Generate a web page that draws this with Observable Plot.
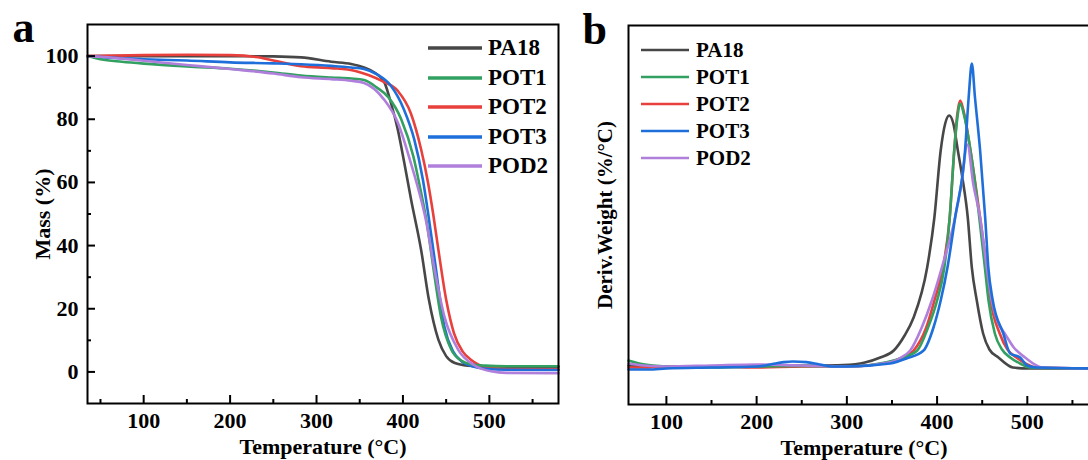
<!DOCTYPE html>
<html><head><meta charset="utf-8">
<script src="https://cdn.jsdelivr.net/npm/d3@7"></script>
<script src="https://cdn.jsdelivr.net/npm/@observablehq/plot@0.6"></script>
<style>
html,body{margin:0;padding:0;background:#fff;overflow:hidden;}
#wrap{position:relative;width:1088px;height:460px;overflow:hidden;font-family:"Liberation Serif","Times New Roman",serif;font-weight:bold;color:#000;}
#wrap svg{position:absolute;top:0;}
.row{position:absolute;display:flex;align-items:center;white-space:nowrap;height:30px;}
</style></head><body><div id="wrap"></div>
<script>
// ---------- series ----------
const series = ["PA18", "POT1", "POT2", "POT3", "POD2"];
const colors = ["#474747", "#32a060", "#e8403c", "#1f6fdb", "#b07fdc"];

// ---------- panel a : TGA (Mass %) ----------
const tgaT_PA18 = [35, 60, 100, 150, 200, 250, 282, 317, 340, 355, 367, 378.5, 386, 394, 401.5, 409.4, 421, 430, 441, 450, 460, 475, 500, 540, 580];
const tgaM_PA18 = [100, 100, 100, 100, 100, 99.9, 99.6, 98.2, 97.5, 96.4, 94.8, 91.7, 85.3, 76.8, 66.3, 54.6, 38.7, 22.9, 10.2, 5.0, 2.8, 2.0, 1.7, 1.6, 1.6];
const tgaT_POT1 = [35, 50, 75, 100, 150, 200, 250, 282, 317, 340, 355, 370, 383, 398, 412, 421, 427, 435, 444, 456, 468, 479, 495, 520, 580];
const tgaM_POT1 = [100, 99.0, 98.2, 97.6, 96.7, 96.0, 94.8, 93.8, 93.2, 92.9, 92.4, 90.0, 87.0, 80.0, 68.3, 56.8, 48.3, 33.3, 17.5, 7.0, 3.5, 2.4, 2.0, 1.8, 1.8];
const tgaT_POT2 = [35, 100, 150, 200, 230, 250, 282, 317, 345, 360, 375, 394, 409, 421, 429, 435, 441, 450, 459, 469, 479, 495, 520, 580];
const tgaM_POT2 = [100, 100.3, 100.4, 100.3, 99.7, 98.6, 96.8, 96.2, 95.3, 94.0, 92.2, 89.0, 82.0, 70.5, 60.0, 50.0, 38.7, 22.9, 12.3, 6.5, 3.8, 1.6, 0.9, 0.8];
const tgaT_POT3 = [35, 60, 100, 150, 200, 250, 282, 317, 340, 355, 370, 386, 401, 413, 423, 429, 437, 448, 458, 468, 480, 495, 520, 580];
const tgaM_POT3 = [100, 99.5, 99.0, 98.6, 98.0, 97.7, 97.4, 96.9, 96.4, 95.9, 94.2, 90.6, 83.2, 73.7, 61.0, 50.5, 35.0, 14.3, 6.5, 3.3, 1.8, 1.0, 0.7, 0.6];
const tgaT_POD2 = [35, 50, 75, 100, 150, 200, 250, 282, 317, 340, 355, 378, 394, 409, 421, 427, 436, 448, 464, 482, 502, 520, 580];
const tgaM_POD2 = [100, 99.8, 99.2, 98.5, 97.2, 95.9, 94.5, 93.3, 92.7, 92.2, 91.5, 86.3, 79.0, 66.3, 54.6, 47.5, 33.3, 17.5, 7.0, 2.2, 0.2, -0.3, -0.4];

// ---------- panel b : DTG (Deriv. weight) ----------
const dtgT_PA18 = [58, 100, 150, 200, 250, 296, 320, 337, 352, 364, 374, 389, 397, 404, 409, 413.4, 418, 423, 428, 434, 438.5, 444, 451, 458, 468, 484, 500, 580];
const dtgV_PA18 = [0.01, 0.005, 0.005, 0.005, 0.008, 0.012, 0.025, 0.05, 0.085, 0.16, 0.25, 0.5, 0.75, 1.085, 1.22, 1.26, 1.22, 1.085, 0.95, 0.75, 0.5, 0.335, 0.17, 0.09, 0.05, 0.0, -0.005, -0.005];
const dtgT_POT1 = [58, 70, 85, 100, 150, 200, 250, 300, 344, 362, 378, 390, 400, 408, 414, 419, 422.5, 425.6, 430, 437, 446, 453, 457, 464, 472, 481, 492, 503, 580];
const dtgV_POT1 = [0.035, 0.02, 0.01, 0.005, 0.0, 0.005, 0.008, 0.005, 0.026, 0.05, 0.085, 0.2, 0.335, 0.5, 0.75, 1.085, 1.25, 1.32, 1.26, 1.085, 0.78, 0.5, 0.335, 0.17, 0.09, 0.05, 0.02, 0.0, -0.005];
const dtgT_POT2 = [58, 75, 100, 150, 200, 250, 300, 346, 362, 374, 388, 397, 406.5, 414, 419, 422.5, 425.6, 430, 437, 447, 455, 459.4, 469.4, 478, 488, 498, 510, 580];
const dtgV_POT2 = [0.0, 0.0, 0.005, 0.005, 0.0, 0.005, 0.005, 0.025, 0.05, 0.085, 0.2, 0.335, 0.5, 0.75, 1.085, 1.27, 1.335, 1.27, 1.085, 0.77, 0.5, 0.335, 0.17, 0.09, 0.05, 0.02, 0.0, -0.005];
const dtgT_POT3 = [58, 80, 100, 150, 200, 215, 230, 240, 255, 270, 285, 300, 348, 366, 385, 396, 404, 411.5, 420, 431, 435, 438.5, 442, 447.7, 453.3, 456.8, 461.7, 473.4, 481, 492, 500, 510, 580];
const dtgV_POT3 = [-0.01, -0.01, -0.005, 0.0, 0.005, 0.015, 0.027, 0.03, 0.027, 0.015, 0.005, 0.005, 0.02, 0.045, 0.085, 0.2, 0.335, 0.5, 0.75, 1.085, 1.35, 1.52, 1.35, 1.085, 0.75, 0.5, 0.335, 0.17, 0.07, 0.05, 0.01, 0.0, -0.005];
const dtgT_POD2 = [58, 75, 100, 150, 200, 250, 300, 348, 360, 370.2, 383, 394.2, 405.3, 420, 427, 433.6, 440, 447.7, 455, 460.5, 468, 475, 485, 497.5, 517, 580];
const dtgV_POD2 = [0.02, 0.01, 0.005, 0.01, 0.015, 0.01, 0.005, 0.026, 0.05, 0.085, 0.2, 0.335, 0.5, 0.75, 0.92, 1.115, 0.92, 0.75, 0.5, 0.335, 0.22, 0.17, 0.1, 0.05, 0.0, -0.005];

// ---------- ticks / labels ----------
const xMajor = [100, 200, 300, 400, 500];
const xMinorA = [50, 150, 250, 350, 450, 550];
const xMinorB = [150, 250, 350, 450, 550];
const yMajorA = [0, 20, 40, 60, 80, 100];
const yMinorA = [10, 30, 50, 70, 90];
const xTitle = "Temperature (°C)";
const yTitleA = "Mass (%)";
const yTitleB = "Deriv.Weight (%/°C)";
const panelA = "a", panelB = "b";

// ---------- build tables ----------
function table(name, xs, ys) { return xs.map((x, i) => ({series: name, x, y: ys[i]})); }
const tga = {
  PA18: table("PA18", tgaT_PA18, tgaM_PA18),
  POT1: table("POT1", tgaT_POT1, tgaM_POT1),
  POT2: table("POT2", tgaT_POT2, tgaM_POT2),
  POT3: table("POT3", tgaT_POT3, tgaM_POT3),
  POD2: table("POD2", tgaT_POD2, tgaM_POD2)
};
const dtg = {
  PA18: table("PA18", dtgT_PA18, dtgV_PA18),
  POT1: table("POT1", dtgT_POT1, dtgV_POT1),
  POT2: table("POT2", dtgT_POT2, dtgV_POT2),
  POT3: table("POT3", dtgT_POT3, dtgV_POT3),
  POD2: table("POD2", dtgT_POD2, dtgV_POD2)
};
const orderA = ["PA18", "POT2", "POT3", "POT1", "POD2"];
const orderB = ["PA18", "POT2", "POT1", "POD2", "POT3"];
const dataA = orderA.flatMap(k => tga[k]);
const dataB = orderB.flatMap(k => dtg[k]);

const FONT = "Liberation Serif, Times New Roman, serif";
const txt = {fontFamily: FONT, fontWeight: "bold", fill: "#000"};

const plotA = Plot.plot({
  width: 570, height: 460,
  marginLeft: 87, marginRight: 12, marginTop: 24, marginBottom: 57,
  style: {fontFamily: FONT, fontWeight: "bold", fontSize: "22px", color: "#000", background: "transparent", overflow: "visible"},
  x: {domain: [35, 580]},
  y: {domain: [-10, 110]},
  color: {domain: series, range: colors},
  marks: [
    Plot.line(dataA, {x: "x", y: "y", z: "series", stroke: "series", strokeWidth: 2.6, curve: "monotone-x"}),
    Plot.axisX(xMajor, {anchor: "bottom", tickSize: -8, tickFormat: () => "", strokeWidth: 2, label: null}),
    Plot.axisX(xMinorA, {anchor: "bottom", tickSize: -4, tickFormat: () => "", strokeWidth: 2, label: null}),
    Plot.axisX(xMajor, {anchor: "bottom", tickSize: 0, tickPadding: 9, fontSize: 22, ...txt, label: null}),
    Plot.axisY(yMajorA, {anchor: "left", tickSize: -8, tickFormat: () => "", strokeWidth: 2, label: null}),
    Plot.axisY(yMinorA, {anchor: "left", tickSize: -4, tickFormat: () => "", strokeWidth: 2, label: null}),
    Plot.axisY(yMajorA, {anchor: "left", tickSize: 0, tickPadding: 9, fontSize: 22, ...txt, label: null}),
    Plot.frame({stroke: "#000", strokeWidth: 2}),
    Plot.text([xTitle], {frameAnchor: "bottom", dy: 43, textAnchor: "middle", lineAnchor: "middle", fontSize: 22, ...txt}),
    Plot.text([yTitleA], {frameAnchor: "left", dx: -45, rotate: -90, textAnchor: "middle", lineAnchor: "middle", fontSize: 22, ...txt}),
    Plot.text([panelA], {frameAnchor: "top-left", dx: -75, dy: 17, textAnchor: "start", lineAnchor: "bottom", fontSize: 44, ...txt})
  ]
});

const plotB = Plot.plot({
  width: 560, height: 460,
  marginLeft: 58, marginRight: 31, marginTop: 25, marginBottom: 56,
  style: {fontFamily: FONT, fontWeight: "bold", fontSize: "22px", color: "#000", background: "transparent", overflow: "visible"},
  x: {domain: [58, 580]},
  y: {domain: [-0.185, 1.71], axis: null},
  color: {domain: series, range: colors},
  marks: [
    Plot.line(dataB, {x: "x", y: "y", z: "series", stroke: "series", strokeWidth: 2.6, curve: "monotone-x"}),
    Plot.axisX(xMajor, {anchor: "bottom", tickSize: -8, tickFormat: () => "", strokeWidth: 2, label: null}),
    Plot.axisX(xMinorB, {anchor: "bottom", tickSize: -4, tickFormat: () => "", strokeWidth: 2, label: null}),
    Plot.axisX(xMajor, {anchor: "bottom", tickSize: 0, tickPadding: 9, fontSize: 22, ...txt, label: null}),
    Plot.frame({stroke: "#000", strokeWidth: 2}),
    Plot.text([xTitle], {frameAnchor: "bottom", dy: 43, textAnchor: "middle", lineAnchor: "middle", fontSize: 22, ...txt}),
    Plot.text([yTitleB], {frameAnchor: "left", dx: -23, rotate: -90, textAnchor: "middle", lineAnchor: "middle", fontSize: 21, ...txt}),
    Plot.text([panelB], {frameAnchor: "top-left", dx: -46, dy: 18, textAnchor: "start", lineAnchor: "bottom", fontSize: 44, ...txt})
  ]
});

const wrap = document.getElementById("wrap");
plotA.style.left = "0px";
plotB.style.left = "570px";
wrap.appendChild(plotA);
wrap.appendChild(plotB);

// ---------- legends (HTML) ----------
function legend(left, top, step, swatch, gap, fontSize, lw) {
  series.forEach((s, i) => {
    const row = document.createElement("div");
    row.className = "row";
    row.style.left = left + "px";
    row.style.top = (top + i * step - 15) + "px";
    row.style.fontSize = fontSize + "px";
    row.innerHTML = `<svg width="${swatch}" height="10" style="position:static;margin-right:${gap}px"><line x1="0" x2="${swatch}" y1="5" y2="5" stroke="${colors[i]}" stroke-width="${lw}"/></svg><span>${s}</span>`;
    wrap.appendChild(row);
  });
}
legend(428, 48, 29.5, 54, 6, 23, 3.5);
legend(641, 50, 27, 48, 7, 21, 2.6);
</script></body></html>
